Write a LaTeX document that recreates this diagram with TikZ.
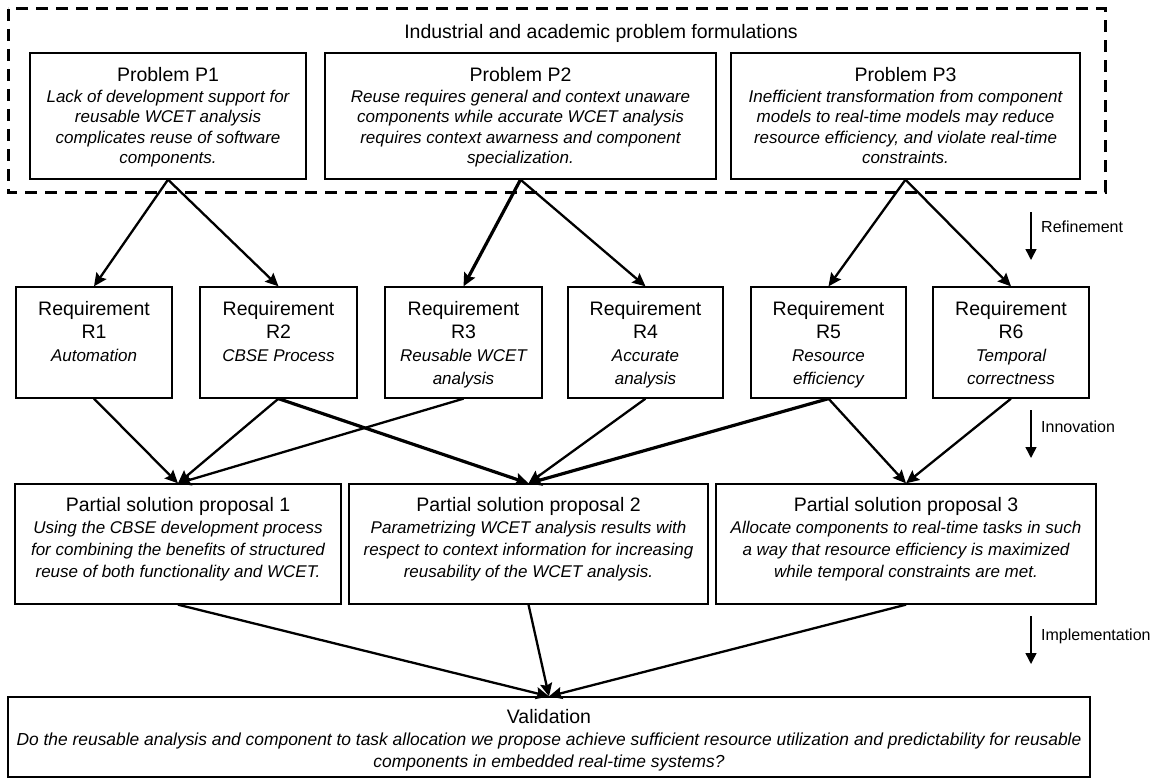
\documentclass[tikz,border=0pt]{standalone}
\usepackage{fontspec}
\setmainfont{Liberation Sans}
\usetikzlibrary{arrows.meta}
\newcommand{\ttlf}{\fontsize{19.5}{21}\selectfont\upshape}
\tikzset{
  box/.style={draw, line width=1.3pt, inner sep=0pt},
  txt/.style={anchor=north, align=center, inner sep=0pt},
  ptxt/.style={txt, font=\fontsize{17}{20.5}\selectfont\itshape},
  rtxt/.style={txt, font=\fontsize{17}{23}\selectfont\itshape},
  stxt/.style={txt, font=\fontsize{17}{22}\selectfont\itshape},
  vtxt/.style={txt, font=\fontsize{17.4}{22}\selectfont\itshape},
  conn/.style={line width=2.3pt, -{Stealth[length=13pt,width=12pt,inset=2pt]}},
  thick conn/.style={conn, line width=3.2pt},
  side/.style={line width=1.5pt, -{Triangle[length=11pt,width=11pt]}},
  sidelbl/.style={anchor=west, inner sep=0pt, font=\fontsize{16}{18}\selectfont},
  frame/.style={line width=3pt, dash pattern=on 12pt off 8pt},
}
\begin{document}
\begin{tikzpicture}[x=1pt, y=-1pt]
\useasboundingbox (0,0) rectangle (1164,781);
% dashed frame
\draw[frame] (8,9) rectangle (1105,192);
\node[inner sep=0pt, font=\ttlf] (title) at (601,33) {Industrial and academic problem formulations};

% problem boxes
\node[box, minimum width=276pt, minimum height=126pt] (P1) at (168,116) {};
\node[box, minimum width=391pt, minimum height=126pt] (P2) at (520.5,116) {};
\node[box, minimum width=349pt, minimum height=126pt] (P3) at (905.5,116) {};
\node[ptxt] (P1t) at ([yshift=-15pt]P1.north) {{\ttlf Problem P1}\\Lack of development support for\\reusable WCET analysis\\complicates reuse of software\\components.};
\node[ptxt] (P2t) at ([yshift=-15pt]P2.north) {{\ttlf Problem P2}\\Reuse requires general and context unaware\\components while accurate WCET analysis\\requires context awarness and component\\specialization.};
\node[ptxt] (P3t) at ([yshift=-15pt]P3.north) {{\ttlf Problem P3}\\Inefficient transformation from component\\models to real-time models may reduce\\resource efficiency, and violate real-time\\constraints.};

% requirement boxes
\node[box, minimum width=156pt, minimum height=111pt] (R1) at (94,342.5) {};
\node[box, minimum width=157pt, minimum height=111pt] (R2) at (278.5,342.5) {};
\node[box, minimum width=157pt, minimum height=111pt] (R3) at (463.5,342.5) {};
\node[box, minimum width=155pt, minimum height=111pt] (R4) at (645.5,342.5) {};
\node[box, minimum width=155pt, minimum height=111pt] (R5) at (828.5,342.5) {};
\node[box, minimum width=156pt, minimum height=111pt] (R6) at (1011,342.5) {};
\node[rtxt] (R1t) at ([yshift=-15pt]R1.north) {{\ttlf Requirement}\\{\ttlf R1}\\Automation};
\node[rtxt] (R2t) at ([yshift=-15pt]R2.north) {{\ttlf Requirement}\\{\ttlf R2}\\CBSE Process};
\node[rtxt] (R3t) at ([yshift=-15pt]R3.north) {{\ttlf Requirement}\\{\ttlf R3}\\Reusable WCET\\analysis};
\node[rtxt] (R4t) at ([yshift=-15pt]R4.north) {{\ttlf Requirement}\\{\ttlf R4}\\Accurate\\analysis};
\node[rtxt] (R5t) at ([yshift=-15pt]R5.north) {{\ttlf Requirement}\\{\ttlf R5}\\Resource\\efficiency};
\node[rtxt] (R6t) at ([yshift=-15pt]R6.north) {{\ttlf Requirement}\\{\ttlf R6}\\Temporal\\correctness};

% partial solution boxes
\node[box, minimum width=326pt, minimum height=120pt] (S1) at (178,544) {};
\node[box, minimum width=359pt, minimum height=120pt] (S2) at (528.5,544) {};
\node[box, minimum width=380pt, minimum height=120pt] (S3) at (906,544) {};
\node[stxt] (S1t) at ([yshift=-14pt]S1.north) {{\ttlf Partial solution proposal 1}\\Using the CBSE development process\\for combining the benefits of structured\\reuse of both functionality and WCET.};
\node[stxt] (S2t) at ([yshift=-14pt]S2.north) {{\ttlf Partial solution proposal 2}\\Parametrizing WCET analysis results with\\respect to context information for increasing\\reusability of the WCET analysis.};
\node[stxt] (S3t) at ([yshift=-14pt]S3.north) {{\ttlf Partial solution proposal 3}\\Allocate components to real-time tasks in such\\a way that resource efficiency is maximized\\while temporal constraints are met.};

% validation
\node[box, minimum width=1082pt, minimum height=80pt] (V) at (549,737) {};
\node[vtxt] (Vt) at ([yshift=-13pt]V.north) {{\ttlf Validation}\\Do the reusable analysis and component to task allocation we propose achieve sufficient resource utilization and predictability for reusable\\components in embedded real-time systems?};

% connectors
\draw[conn] (P1.south) -- (R1.north);
\draw[conn] (P1.south) -- (R2.north);
\draw[thick conn] (P2.south) -- (R3.north);
\draw[conn] (P2.south) -- (R4.north);
\draw[conn] (P3.south) -- (R5.north);
\draw[conn] (P3.south) -- (R6.north);

\draw[conn] (R1.south) -- (S1.north);
\draw[conn] (R2.south) -- (S1.north);
\draw[conn] (R3.south) -- (S1.north);
\draw[thick conn] (R2.south) -- (S2.north);
\draw[conn] (R4.south) -- (S2.north);
\draw[thick conn] (R5.south) -- (S2.north);
\draw[conn] (R5.south) -- (S3.north);
\draw[conn] (R6.south) -- (S3.north);

\draw[conn] (S1.south) -- (V.north);
\draw[conn] (S2.south) -- (V.north);
\draw[conn] (S3.south) -- (V.north);

% side labels
\coordinate (a1) at (1031,212); \coordinate (b1) at (1031,260);
\coordinate (a2) at (1031,410); \coordinate (b2) at (1031,458);
\coordinate (a3) at (1031,616); \coordinate (b3) at (1031,664);
\draw[side] (a1) -- (b1);
\draw[side] (a2) -- (b2);
\draw[side] (a3) -- (b3);
\node[sidelbl] (L1) at (1041,227) {Refinement};
\node[sidelbl] (L2) at (1041,427) {Innovation};
\node[sidelbl] (L3) at (1041,636) {Implementation};
\end{tikzpicture}
\end{document}
